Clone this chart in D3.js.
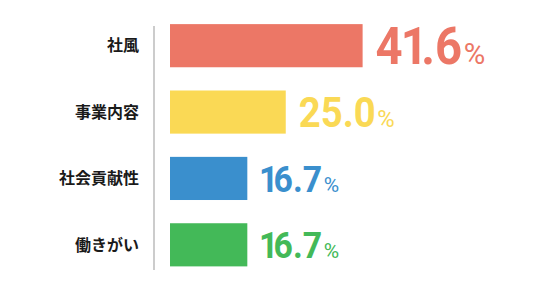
<!DOCTYPE html>
<html>
<head>
<meta charset="utf-8">
<script src="https://cdn.jsdelivr.net/npm/d3@7"></script>
<style>
  body { margin: 0; background: #fff; }
  svg { display: block; }
</style>
</head>
<body>
<script>
// データ
var categories = ["社風", "事業内容", "社会貢献性", "働きがい"];
var values = [41.6, 25.0, 16.7, 16.7];
var colors = ["#ec7766", "#fad955", "#3a8fcd", "#43b958"];

var width = 541, height = 294;
var svg = d3.select("body").append("svg").attr("width", width).attr("height", height);

// x軸の比例尺（0〜100%）
var x = d3.scaleLinear().domain([0, 100]).range([170, 633]);
// y軸の比例尺
var y = d3.scaleBand().domain(categories).range([12.5, 278]).paddingInner(0.35).paddingOuter(0.175);
// 値ラベルの文字サイズ（値が大きいほど大きく）
var size = d3.scaleLinear().domain([d3.min(values), d3.max(values)]).range([37.5, 52.5]);

var data = categories.map(function (c, i) { return { key: c, value: values[i], color: colors[i] }; });

// 縦の区切り線
svg.append("line")
    .attr("x1", x(0) - 16).attr("x2", x(0) - 16)
    .attr("y1", y.range()[0] + 13.5).attr("y2", y.range()[1] - 8)
    .attr("stroke", "#cccccc").attr("stroke-width", 2);

// カテゴリ名
svg.selectAll(".cat")
    .data(data)
    .enter().append("text")
    .attr("class", "cat")
    .attr("x", x(0) - 31)
    .attr("y", function (d) { return y(d.key) + y.bandwidth() / 2; })
    .attr("dy", "0.36em")
    .attr("text-anchor", "end")
    .attr("font-family", "'Noto Sans CJK JP', sans-serif")
    .attr("font-weight", 700)
    .attr("font-size", 16)
    .attr("fill", "#1a1a1a")
    .text(function (d) { return d.key; });

// 棒
svg.selectAll(".bar")
    .data(data)
    .enter().append("rect")
    .attr("class", "bar")
    .attr("x", x(0))
    .attr("y", function (d) { return y(d.key); })
    .attr("width", function (d) { return x(d.value) - x(0); })
    .attr("height", y.bandwidth())
    .attr("fill", function (d) { return d.color; });

// 値ラベル（数字を少し細長く、「1」の前後を詰める）
var squeeze = 0.9;
function kern(ch, prev) {
    if (ch === "1") return -0.04;
    if (prev === "1") return -0.14;
    return 0;
}

var lab = svg.selectAll(".val")
    .data(data)
    .enter().append("g")
    .attr("class", "val");

lab.each(function (d) {
    var g = d3.select(this);
    var fs = size(d.value);
    var bx = x(d.value) + 13;
    var by = y(d.key) + y.bandwidth() / 2 + 0.355 * fs;
    var chars = d.value.toFixed(1).split("");
    var dxs = chars.map(function (c, i) { return (kern(c, chars[i - 1]) * fs).toFixed(2); });
    var num = g.append("text")
        .attr("transform", "translate(" + bx + "," + by + ") scale(" + squeeze + ",1)")
        .attr("dx", dxs.join(" "))
        .attr("font-family", "Roboto, sans-serif")
        .attr("font-weight", 700)
        .attr("font-size", fs)
        .attr("fill", d.color)
        .text(chars.join(""));
    var bb = num.node().getBBox();
    g.append("text")
        .attr("x", bx + (bb.x + bb.width) * squeeze + 1.5).attr("y", by)
        .attr("font-family", "Roboto, sans-serif")
        .attr("font-weight", 400)
        .attr("font-size", fs * 0.56)
        .attr("fill", d.color)
        .text("%");
});
</script>
</body>
</html>
